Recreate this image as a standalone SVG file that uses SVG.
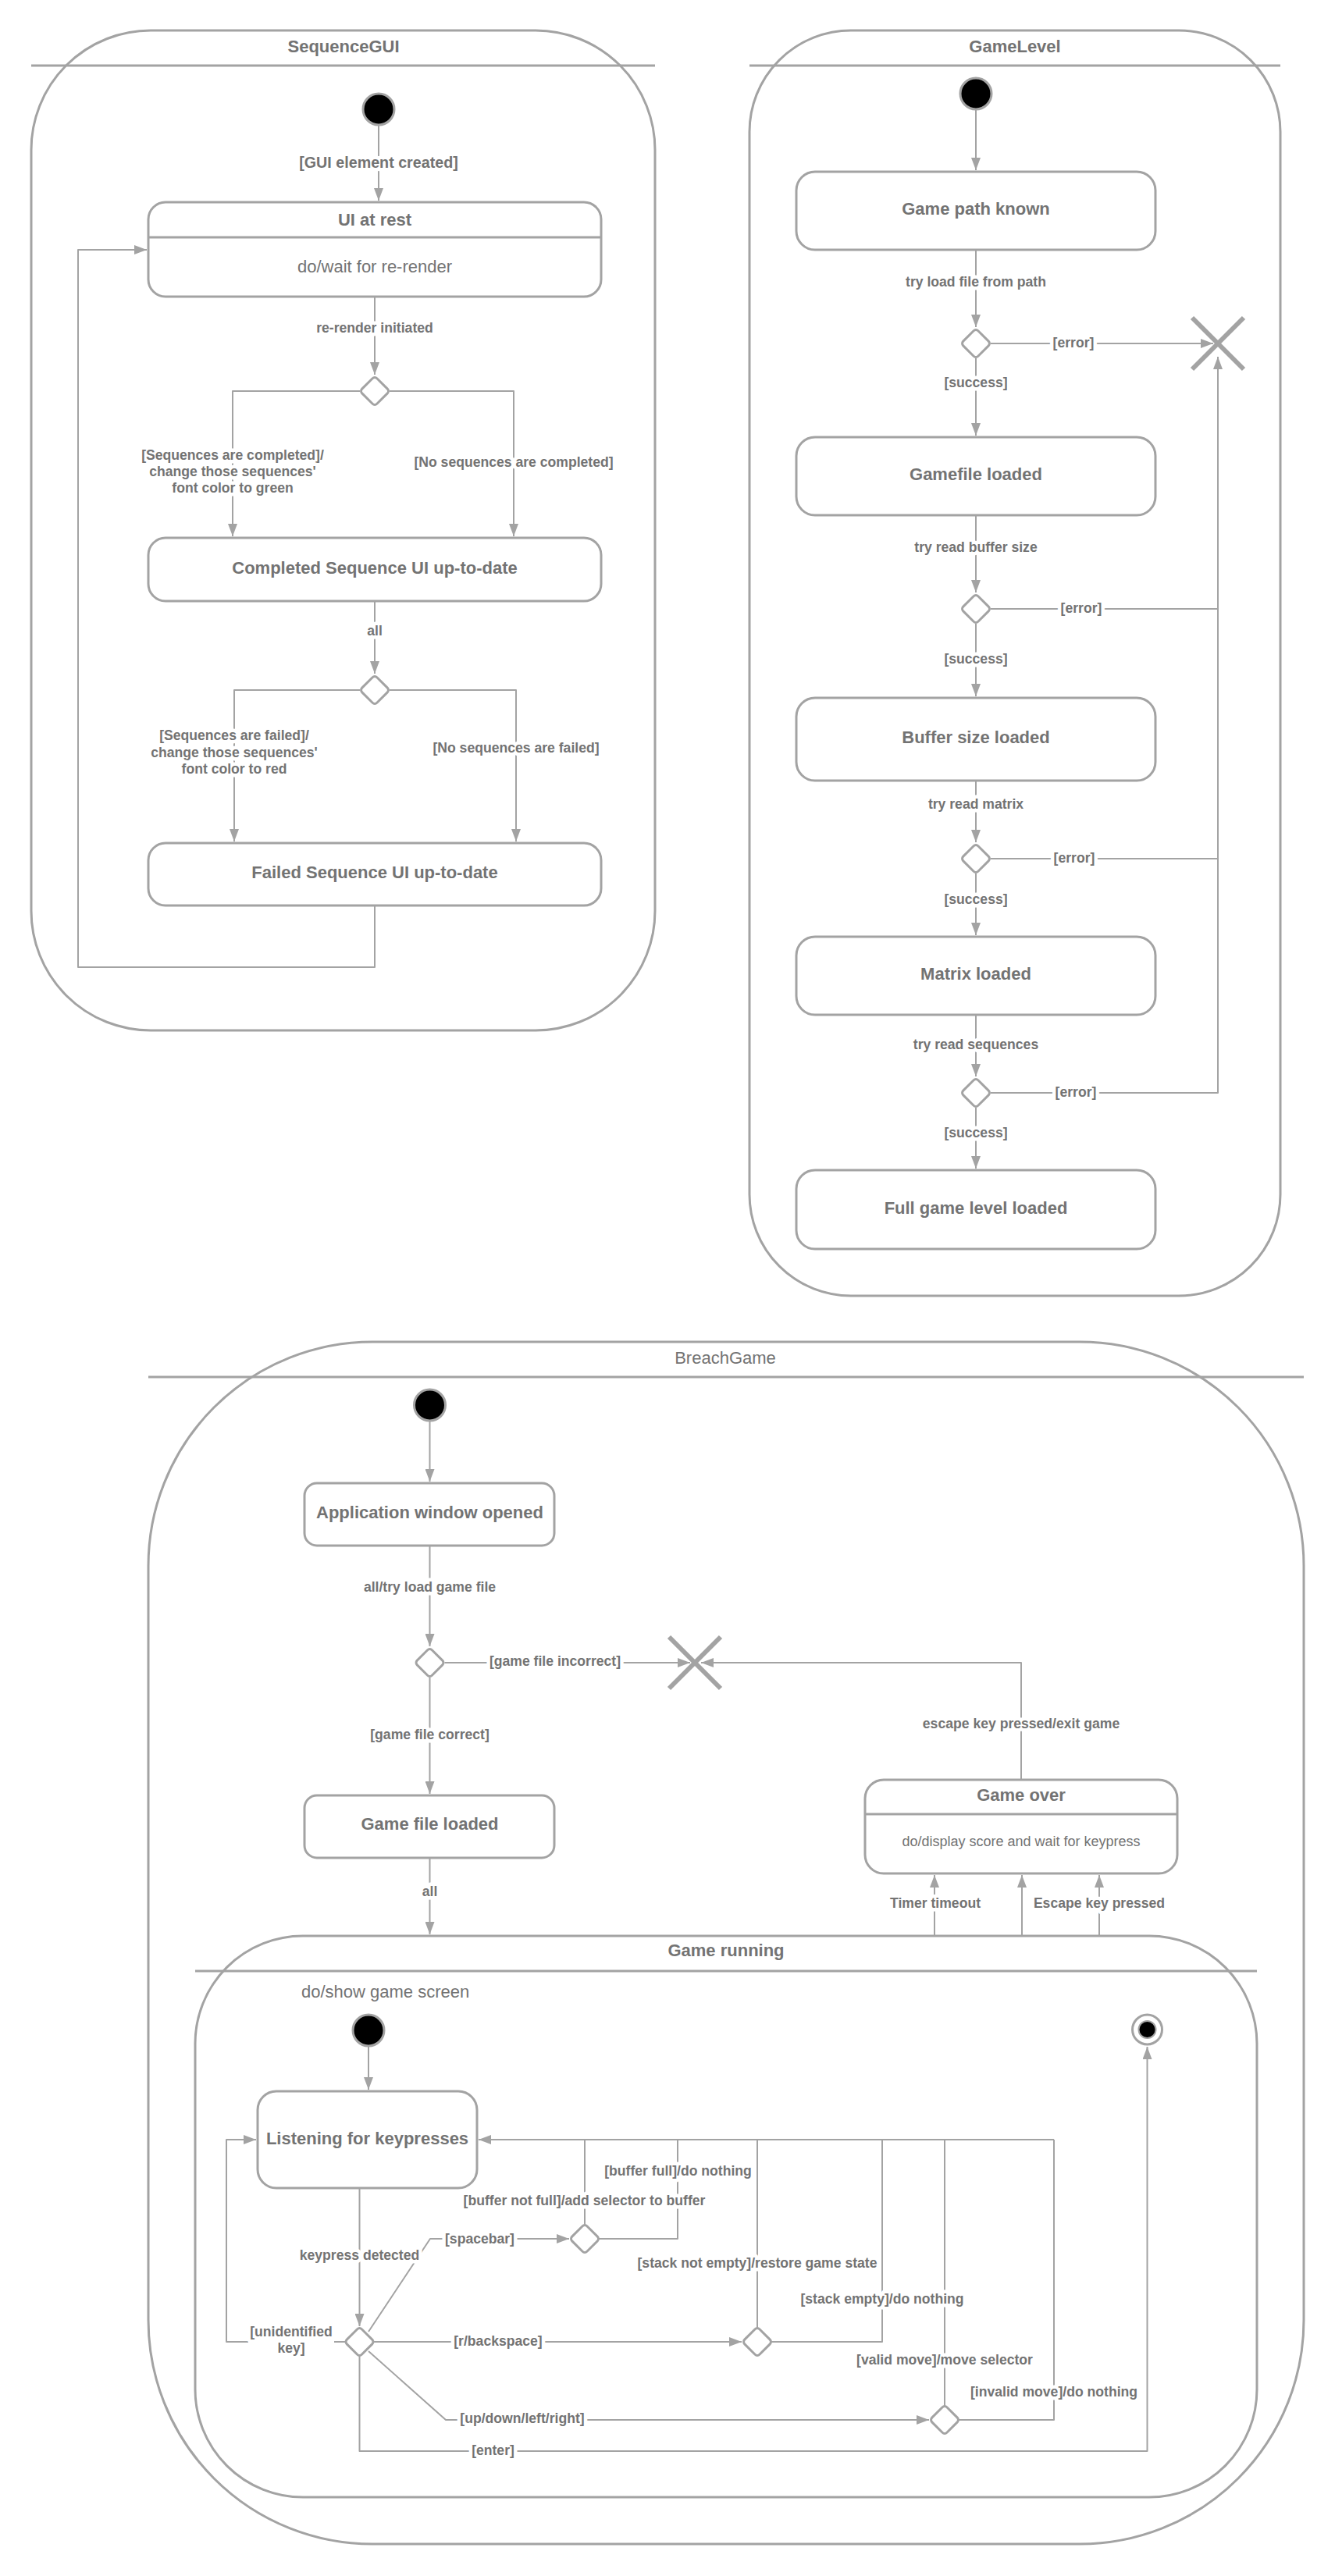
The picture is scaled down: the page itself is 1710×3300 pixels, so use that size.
<svg xmlns="http://www.w3.org/2000/svg" width="1710" height="3300" viewBox="0 0 1710 3300">
<style>
  .cont{fill:none;stroke:#a3a3a3;stroke-width:3}
  .state{fill:#fff;stroke:#a3a3a3;stroke-width:3}
  .sep{stroke:#a3a3a3;stroke-width:3}
  .edge{fill:none;stroke:#a3a3a3;stroke-width:2;stroke-linejoin:round}
  .dia{fill:#fff;stroke:#a3a3a3;stroke-width:3}
  .init{fill:#000;stroke:#a3a3a3;stroke-width:3}
  .term{stroke:#a3a3a3;stroke-width:6}
  text{font-family:"Liberation Sans",Arial,Helvetica,sans-serif;fill:#737373;text-anchor:middle}
  .title{font-size:22px;font-weight:bold}
  .ctitle{font-size:22px}
  .name{font-size:22px;font-weight:bold}
  .do{font-size:22px}
  .do18{font-size:18px}
  .lbl{font-size:17.6px;font-weight:bold;paint-order:stroke;stroke:#fff;stroke-width:9px;stroke-linejoin:round}
</style>
<defs>
  <marker id="arr" markerWidth="16" markerHeight="12" refX="16" refY="6" orient="auto" markerUnits="userSpaceOnUse">
    <path d="M0,0 L16,6 L0,12 z" fill="#a3a3a3"/>
  </marker>
  <rect id="diamond" x="-13.5" y="-13.5" width="27" height="27" rx="4" transform="rotate(45)"/>
</defs>
<rect width="1710" height="3300" fill="#fff"/>

<!-- ===== SequenceGUI ===== -->
<g id="SequenceGUI">
  <rect class="cont" x="40" y="39" width="799" height="1281" rx="153"/>
  <line class="sep" x1="40" y1="84" x2="839" y2="84"/>
  <text class="title" x="440" y="67">SequenceGUI</text>
</g>

<!-- ===== GameLevel ===== -->
<g id="GameLevel">
  <rect class="cont" x="960" y="39" width="680" height="1621" rx="130"/>
  <line class="sep" x1="960" y1="84" x2="1640" y2="84"/>
  <text class="title" x="1300" y="67">GameLevel</text>
</g>

<!-- ===== BreachGame ===== -->
<g id="BreachGame">
  <rect class="cont" x="190" y="1719" width="1480" height="1540" rx="287"/>
  <line class="sep" x1="190" y1="1764" x2="1670" y2="1764"/>
  <text class="ctitle" x="929" y="1747">BreachGame</text>
</g>

<!-- ===== Game running (composite state) ===== -->
<g id="GameRunning">
  <rect class="cont" x="250" y="2480" width="1360" height="719" rx="138"/>
  <line class="sep" x1="250" y1="2525" x2="1610" y2="2525"/>
  <text class="title" x="930" y="2506">Game running</text>
  <text class="do" x="386" y="2559" style="text-anchor:start">do/show game screen</text>
</g>

<!-- ===== Connectors ===== -->
<g id="connectors">
  <!-- SequenceGUI -->
  <path class="edge" d="M485,160 V257" marker-end="url(#arr)"/>
  <path class="edge" d="M480,380 V480" marker-end="url(#arr)"/>
  <path class="edge" d="M461,501 H298 V687" marker-end="url(#arr)"/>
  <path class="edge" d="M499,501 H658 V687" marker-end="url(#arr)"/>
  <path class="edge" d="M480,770 V863" marker-end="url(#arr)"/>
  <path class="edge" d="M461,884 H300 V1078" marker-end="url(#arr)"/>
  <path class="edge" d="M499,884 H661 V1078" marker-end="url(#arr)"/>
  <path class="edge" d="M480,1160 V1239 H100 V320 H188" marker-end="url(#arr)"/>

  <!-- GameLevel -->
  <path class="edge" d="M1250,140 V218" marker-end="url(#arr)"/>
  <path class="edge" d="M1250,320 V419" marker-end="url(#arr)"/>
  <path class="edge" d="M1269,440 H1554" marker-end="url(#arr)"/>
  <path class="edge" d="M1250,459 V558" marker-end="url(#arr)"/>
  <path class="edge" d="M1250,660 V759" marker-end="url(#arr)"/>
  <path class="edge" d="M1269,780 H1560"/>
  <path class="edge" d="M1250,799 V892" marker-end="url(#arr)"/>
  <path class="edge" d="M1250,1000 V1079" marker-end="url(#arr)"/>
  <path class="edge" d="M1269,1100 H1560"/>
  <path class="edge" d="M1250,1119 V1198" marker-end="url(#arr)"/>
  <path class="edge" d="M1250,1300 V1379" marker-end="url(#arr)"/>
  <path class="edge" d="M1269,1400 H1560 V457" marker-end="url(#arr)"/>
  <path class="edge" d="M1250,1419 V1497" marker-end="url(#arr)"/>

  <!-- BreachGame -->
  <path class="edge" d="M550.5,1820 V1898" marker-end="url(#arr)"/>
  <path class="edge" d="M550.5,1980 V2109" marker-end="url(#arr)"/>
  <path class="edge" d="M569.5,2130 H884" marker-end="url(#arr)"/>
  <path class="edge" d="M550.5,2149 V2298" marker-end="url(#arr)"/>
  <path class="edge" d="M1308,2280 V2130 H898" marker-end="url(#arr)"/>
  <path class="edge" d="M550.5,2380 V2478" marker-end="url(#arr)"/>
  <path class="edge" d="M1197,2480 V2402" marker-end="url(#arr)"/>
  <path class="edge" d="M1309,2480 V2402" marker-end="url(#arr)"/>
  <path class="edge" d="M1408,2480 V2402" marker-end="url(#arr)"/>

  <!-- Game running -->
  <path class="edge" d="M472,2621 V2677" marker-end="url(#arr)"/>
  <path class="edge" d="M460.5,2803 V2980" marker-end="url(#arr)"/>
  <path class="edge" d="M472,2987 L551,2868 H729" marker-end="url(#arr)"/>
  <path class="edge" d="M1350,2741 H613" marker-end="url(#arr)"/>
  <path class="edge" d="M749,2850 V2741"/>
  <path class="edge" d="M767,2868 H868 V2741"/>
  <path class="edge" d="M479,3000 H950" marker-end="url(#arr)"/>
  <path class="edge" d="M970,2982 V2741"/>
  <path class="edge" d="M988,3000 H1130 V2741"/>
  <path class="edge" d="M472,3012 L571,3100 H1190" marker-end="url(#arr)"/>
  <path class="edge" d="M1210,3082 V2741"/>
  <path class="edge" d="M1228,3100 H1350 V2741"/>
  <path class="edge" d="M460.5,3018 V3140 H1469.5 V2622" marker-end="url(#arr)"/>
  <path class="edge" d="M442,3000 H290 V2741 H328" marker-end="url(#arr)"/>

  <!-- labels -->
  <text class="lbl" x="485" y="214.5" style="font-size:19.7px">[GUI element created]</text>
  <text class="lbl" x="480" y="426">re-render initiated</text>
  <text class="lbl" x="298" y="589">[Sequences are completed]/</text>
  <text class="lbl" x="298" y="610">change those sequences'</text>
  <text class="lbl" x="298" y="631">font color to green</text>
  <text class="lbl" x="658" y="598">[No sequences are completed]</text>
  <text class="lbl" x="480" y="814">all</text>
  <text class="lbl" x="300" y="948">[Sequences are failed]/</text>
  <text class="lbl" x="300" y="970">change those sequences'</text>
  <text class="lbl" x="300" y="991">font color to red</text>
  <text class="lbl" x="661" y="964">[No sequences are failed]</text>

  <text class="lbl" x="1250" y="367">try load file from path</text>
  <text class="lbl" x="1375" y="445">[error]</text>
  <text class="lbl" x="1250" y="496">[success]</text>
  <text class="lbl" x="1250" y="707">try read buffer size</text>
  <text class="lbl" x="1385" y="785">[error]</text>
  <text class="lbl" x="1250" y="850">[success]</text>
  <text class="lbl" x="1250" y="1036">try read matrix</text>
  <text class="lbl" x="1376" y="1105">[error]</text>
  <text class="lbl" x="1250" y="1158">[success]</text>
  <text class="lbl" x="1250" y="1344">try read sequences</text>
  <text class="lbl" x="1378" y="1405">[error]</text>
  <text class="lbl" x="1250" y="1457">[success]</text>

  <text class="lbl" x="550.5" y="2039">all/try load game file</text>
  <text class="lbl" x="711" y="2134">[game file incorrect]</text>
  <text class="lbl" x="550.5" y="2228">[game file correct]</text>
  <text class="lbl" x="1308" y="2214">escape key pressed/exit game</text>
  <text class="lbl" x="550.5" y="2429">all</text>
  <text class="lbl" x="1198" y="2444">Timer timeout</text>
  <text class="lbl" x="1408" y="2444">Escape key pressed</text>

  <text class="lbl" x="460.5" y="2895">keypress detected</text>
  <text class="lbl" x="614.5" y="2874">[spacebar]</text>
  <text class="lbl" x="748.5" y="2825">[buffer not full]/add selector to buffer</text>
  <text class="lbl" x="868.5" y="2787">[buffer full]/do nothing</text>
  <text class="lbl" x="638" y="3005">[r/backspace]</text>
  <text class="lbl" x="970" y="2905">[stack not empty]/restore game state</text>
  <text class="lbl" x="1130" y="2951">[stack empty]/do nothing</text>
  <text class="lbl" x="669" y="3104">[up/down/left/right]</text>
  <text class="lbl" x="1210" y="3029">[valid move]/move selector</text>
  <text class="lbl" x="1350" y="3070">[invalid move]/do nothing</text>
  <text class="lbl" x="631.5" y="3145">[enter]</text>
  <rect x="318" y="2975" width="110" height="44" fill="#fff"/>
  <text class="lbl" x="373" y="2993">[unidentified</text>
  <text class="lbl" x="373" y="3014">key]</text>
</g>

<!-- ===== SequenceGUI nodes ===== -->
<g id="sg-initial"><circle class="init" cx="485" cy="140" r="20"/></g>
<g id="sg-ui-at-rest">
  <rect class="state" x="190" y="259" width="580" height="121" rx="22"/>
  <line class="sep" x1="190" y1="304" x2="770" y2="304"/>
  <text class="name" x="480" y="289">UI at rest</text>
  <text class="do" x="480" y="349">do/wait for re-render</text>
</g>
<g id="sg-choice-1"><use href="#diamond" class="dia" x="480" y="501"/></g>
<g id="sg-completed">
  <rect class="state" x="190" y="689" width="580" height="81" rx="22"/>
  <text class="name" x="480" y="735">Completed Sequence UI up-to-date</text>
</g>
<g id="sg-choice-2"><use href="#diamond" class="dia" x="480" y="884"/></g>
<g id="sg-failed">
  <rect class="state" x="190" y="1080" width="580" height="80" rx="22"/>
  <text class="name" x="480" y="1125">Failed Sequence UI up-to-date</text>
</g>

<!-- ===== GameLevel nodes ===== -->
<g id="gl-initial"><circle class="init" cx="1250" cy="120" r="20"/></g>
<g id="gl-path-known">
  <rect class="state" x="1020" y="220" width="460" height="100" rx="24"/>
  <text class="name" x="1250" y="275">Game path known</text>
</g>
<g id="gl-choice-1"><use href="#diamond" class="dia" x="1250" y="440"/></g>
<g id="gl-terminate">
  <line class="term" x1="1527" y1="407" x2="1593" y2="473"/>
  <line class="term" x1="1593" y1="407" x2="1527" y2="473"/>
</g>
<g id="gl-gamefile-loaded">
  <rect class="state" x="1020" y="560" width="460" height="100" rx="24"/>
  <text class="name" x="1250" y="615">Gamefile loaded</text>
</g>
<g id="gl-choice-2"><use href="#diamond" class="dia" x="1250" y="780"/></g>
<g id="gl-buffer-loaded">
  <rect class="state" x="1020" y="894" width="460" height="106" rx="24"/>
  <text class="name" x="1250" y="952">Buffer size loaded</text>
</g>
<g id="gl-choice-3"><use href="#diamond" class="dia" x="1250" y="1100"/></g>
<g id="gl-matrix-loaded">
  <rect class="state" x="1020" y="1200" width="460" height="100" rx="24"/>
  <text class="name" x="1250" y="1255">Matrix loaded</text>
</g>
<g id="gl-choice-4"><use href="#diamond" class="dia" x="1250" y="1400"/></g>
<g id="gl-full-loaded">
  <rect class="state" x="1020" y="1499" width="460" height="101" rx="24"/>
  <text class="name" x="1250" y="1555">Full game level loaded</text>
</g>

<!-- ===== BreachGame nodes ===== -->
<g id="bg-initial"><circle class="init" cx="550.5" cy="1800" r="20"/></g>
<g id="bg-window-opened">
  <rect class="state" x="390" y="1900" width="320" height="80" rx="16"/>
  <text class="name" x="550.5" y="1945">Application window opened</text>
</g>
<g id="bg-choice"><use href="#diamond" class="dia" x="550.5" y="2130"/></g>
<g id="bg-terminate">
  <line class="term" x1="857" y1="2097" x2="923" y2="2163"/>
  <line class="term" x1="923" y1="2097" x2="857" y2="2163"/>
</g>
<g id="bg-file-loaded">
  <rect class="state" x="390" y="2300" width="320" height="80" rx="16"/>
  <text class="name" x="550.5" y="2344">Game file loaded</text>
</g>
<g id="bg-game-over">
  <rect class="state" x="1108" y="2280" width="400" height="120" rx="24"/>
  <line class="sep" x1="1108" y1="2324" x2="1508" y2="2324"/>
  <text class="name" x="1308" y="2307">Game over</text>
  <text class="do18" x="1308" y="2365">do/display score and wait for keypress</text>
</g>

<!-- ===== Game running nodes ===== -->
<g id="gr-initial"><circle class="init" cx="472" cy="2601" r="20"/></g>
<g id="gr-listening">
  <rect class="state" x="330" y="2679" width="281" height="124" rx="24"/>
  <text class="name" x="470.5" y="2747">Listening for keypresses</text>
</g>
<g id="gr-key-choice"><use href="#diamond" class="dia" x="460.5" y="3000"/></g>
<g id="gr-buffer-choice"><use href="#diamond" class="dia" x="749" y="2868"/></g>
<g id="gr-undo-choice"><use href="#diamond" class="dia" x="970" y="3000"/></g>
<g id="gr-move-choice"><use href="#diamond" class="dia" x="1210" y="3100"/></g>
<g id="gr-final">
  <circle cx="1469.5" cy="2600" r="19" fill="#fff" stroke="#a3a3a3" stroke-width="3"/>
  <circle cx="1469.5" cy="2600" r="11" fill="#000" stroke="#a3a3a3" stroke-width="2"/>
</g>
</svg>
